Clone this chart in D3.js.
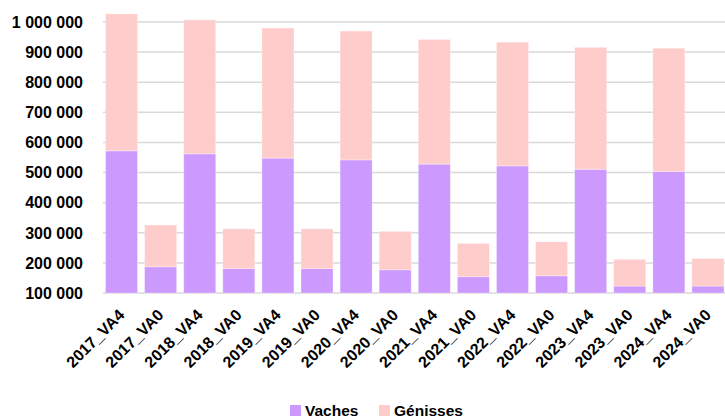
<!DOCTYPE html>
<html>
<head>
<meta charset="utf-8">
<script src="https://cdn.jsdelivr.net/npm/d3@7"></script>
<style>
  body { margin: 0; background: #fff; }
  text { font-family: "Liberation Sans", Arial, sans-serif; font-weight: bold; fill: #000; }
</style>
</head>
<body>
<div id="chart"></div>
<script>
// categories and values
var categories = ["2017_VA4", "2017_VA0", "2018_VA4", "2018_VA0", "2019_VA4", "2019_VA0",
  "2020_VA4", "2020_VA0", "2021_VA4", "2021_VA0", "2022_VA4", "2022_VA0",
  "2023_VA4", "2023_VA0", "2024_VA4", "2024_VA0"];
var vaches = [572000, 187000, 562000, 181000, 548000, 181000, 542000, 177000,
  528000, 154000, 522000, 157000, 511000, 123000, 504000, 123000];
var genisses = [455000, 139000, 445000, 132000, 432000, 132000, 428000, 128000,
  414000, 111000, 411000, 113000, 405000, 89000, 409000, 92000];
var yTicks = [100000, 200000, 300000, 400000, 500000, 600000, 700000, 800000, 900000, 1000000];
var seriesNames = ["Vaches", "Génisses"];
var colors = ["#CC99FF", "#FFCCCC"];

var width = 725, height = 419;
var yMin = 100000;

var svg = d3.select("#chart")
  .append("svg")
  .attr("width", width)
  .attr("height", height);

var x = d3.scaleBand()
  .domain(categories)
  .range([102, 727.5])
  .paddingInner(0.18)
  .paddingOuter(0.09);

var y = d3.scaleLinear()
  .domain([yMin, 1000000])
  .range([293, 22]);

// gridlines
svg.append("g")
  .selectAll("line")
  .data(yTicks)
  .enter()
  .append("line")
    .attr("x1", 103)
    .attr("x2", width)
    .attr("y1", d => y(d))
    .attr("y2", d => y(d))
    .attr("stroke", "#D9D9D9")
    .attr("stroke-width", 1.5);

// y labels
var fmt = d => d3.format(",")(d).replace(/,/g, " ");
svg.append("g")
  .selectAll("text")
  .data(yTicks)
  .enter()
  .append("text")
    .attr("x", 83)
    .attr("y", d => y(d))
    .attr("dy", "0.36em")
    .attr("text-anchor", "end")
    .style("font-size", "16px")
    .text(fmt);

// stacked bars (axis starts at 100 000, so bottoms are cut there)
var rows = categories.map((c, i) => ({ cat: c, v: vaches[i], g: genisses[i] }));
var stack = d3.stack().keys(["v", "g"])(rows);

svg.append("g")
  .selectAll("g")
  .data(stack)
  .enter()
  .append("g")
    .attr("fill", (d, i) => colors[i])
  .selectAll("rect")
  .data(d => d)
  .enter()
  .append("rect")
    .attr("x", d => x(d.data.cat))
    .attr("width", x.bandwidth())
    .attr("y", d => y(d[1]))
    .attr("height", d => y(Math.max(yMin, d[0])) - y(d[1]))
    .attr("stroke", "#fff")
    .attr("stroke-opacity", 0.4)
    .attr("stroke-width", 0.8);

// x labels
svg.append("g")
  .selectAll("text")
  .data(categories)
  .enter()
  .append("text")
    .attr("transform", d => "translate(" + (x(d) + x.bandwidth() / 2 + 4) + ",316) rotate(-45)")
    .attr("text-anchor", "end")
    .style("font-size", "16px")
    .text(d => d);

// legend
var legendX = [290, 379];
var legend = svg.append("g")
  .selectAll("g")
  .data(seriesNames)
  .enter()
  .append("g")
    .attr("transform", (d, i) => "translate(" + legendX[i] + ",405)");
legend.append("rect")
  .attr("width", 11)
  .attr("height", 11)
  .attr("fill", (d, i) => colors[i]);
legend.append("text")
  .attr("x", 15)
  .attr("y", 11)
  .style("font-size", "15.5px")
  .text(d => d);
</script>
</body>
</html>
